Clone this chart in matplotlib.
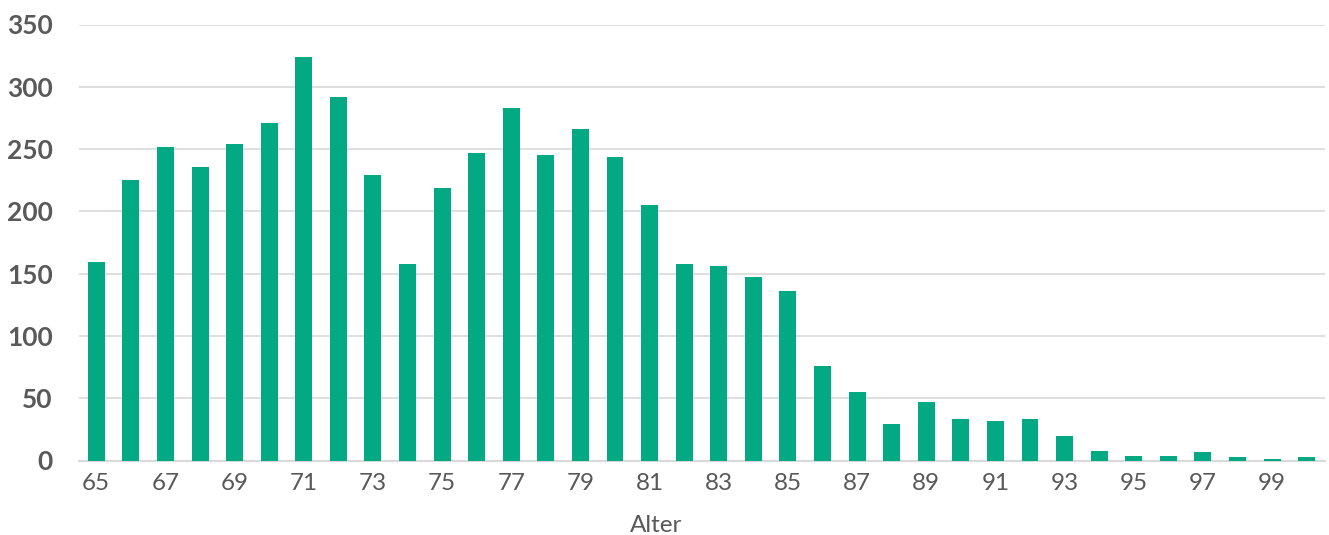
import matplotlib
matplotlib.use("Agg")
import matplotlib.pyplot as plt
import numpy as np

ages = list(range(65, 101))
counts = [159, 225, 252, 236, 254, 271, 324, 292, 229, 158,
          219, 247, 283, 245, 266, 244, 205, 158, 156, 147,
          136, 76, 55, 29, 47, 33, 32, 33, 20, 8,
          4, 4, 7, 3, 1, 3]
yticks = [0, 50, 100, 150, 200, 250, 300, 350]
xlabel = "Alter"

bar_color = "#02A982"
grid_color = "#D9D9D9"
text_color = "#595959"

W, H = 1329, 535
fig = plt.figure(figsize=(W / 100, H / 100), dpi=100)
ax = fig.add_axes([79 / W, 74.5 / H, (1325 - 79) / W, 436 / H])

x = np.arange(len(ages))
ax.bar(x, counts, width=0.49, color=bar_color, zorder=3)

ax.set_xlim(-0.5, len(ages) - 0.47)
ax.set_ylim(0, 350)
ax.set_yticks(yticks)
ax.set_yticklabels([str(v) for v in yticks], fontsize=19, color=text_color,
                   fontfamily="Lato", fontweight="bold")
ax.set_xticks(x[::2])
ax.set_xticklabels([str(a) for a in ages[::2]], fontsize=17.5, color=text_color,
                   fontfamily="Lato", fontweight="normal")
ax.tick_params(axis="both", length=0)
ax.tick_params(axis="y", pad=19)
ax.tick_params(axis="x", pad=9)

ax.yaxis.grid(True, color=grid_color, linewidth=1.2, zorder=0)
for s in ["top", "right", "left"]:
    ax.spines[s].set_visible(False)
ax.spines["bottom"].set_color(grid_color)
ax.spines["bottom"].set_linewidth(1.5)

fig.text(656 / W, 1 - 525 / H, xlabel, fontsize=17.5, color=text_color,
         fontfamily="Lato", fontweight="normal", ha="center", va="center")

fig.savefig("out.png", dpi=100, facecolor="white")
